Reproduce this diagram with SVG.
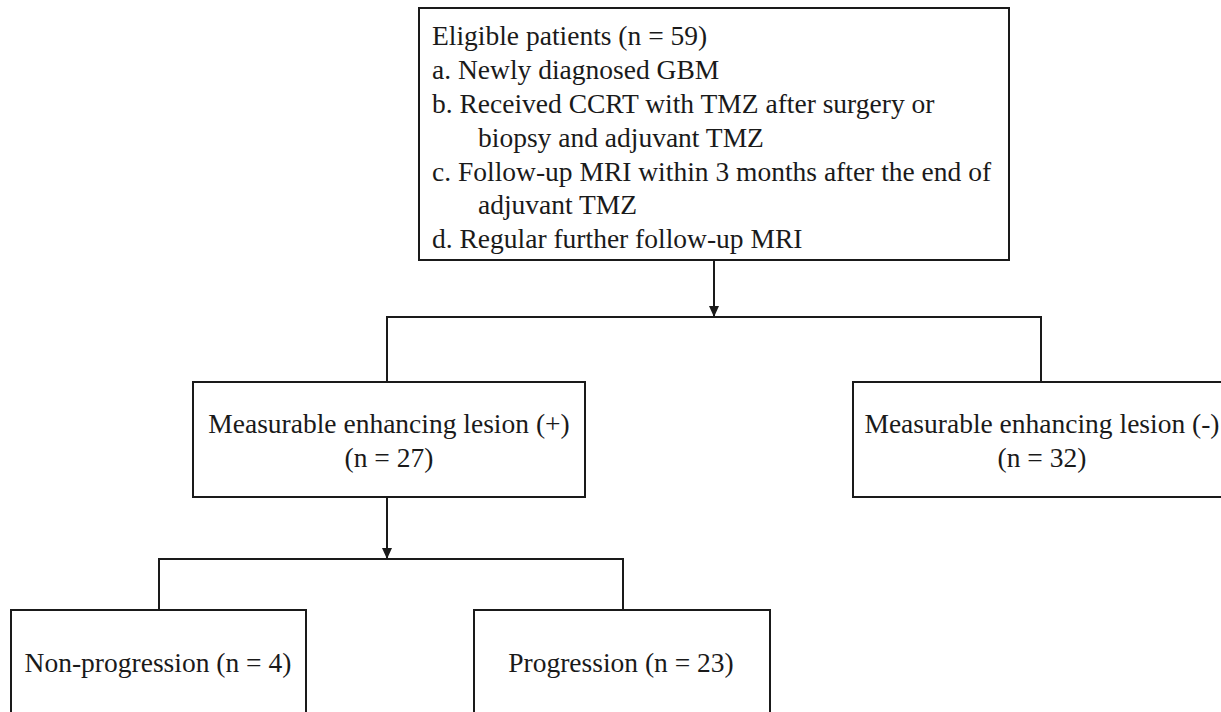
<svg xmlns="http://www.w3.org/2000/svg" width="1221" height="712" viewBox="0 0 1221 712">
<style>
.box{fill:#fff;stroke:#1a1a1a;stroke-width:2}
.ln{fill:none;stroke:#1a1a1a;stroke-width:2}
text{font-family:"Liberation Serif","Times New Roman",serif;font-size:27.5px;fill:#1a1a1a}
.c{text-anchor:middle}
</style>
<defs>
<marker id="arr" markerWidth="11" markerHeight="10" refX="11" refY="5" orient="auto" markerUnits="userSpaceOnUse" viewBox="0 0 11 10">
<path d="M0,0 L11,5 L0,10 Z" fill="#1a1a1a"/>
</marker>
</defs>
<g id="connectors">
<line class="ln" x1="714" y1="260" x2="714" y2="317" marker-end="url(#arr)"/>
<polyline class="ln" points="387,382 387,317 1041,317 1041,382"/>
<line class="ln" x1="387" y1="497" x2="387" y2="559" marker-end="url(#arr)"/>
<polyline class="ln" points="159,610 159,559 623,559 623,610"/>
</g>
<g id="eligible">
<rect class="box" x="419" y="8" width="590" height="252"/>
<text x="432" y="45">Eligible patients (n = 59)</text>
<text x="432" y="79">a. Newly diagnosed GBM</text>
<text x="432" y="113">b. Received CCRT with TMZ after surgery or</text>
<text x="478" y="147">biopsy and adjuvant TMZ</text>
<text x="432" y="181">c. Follow-up MRI within 3 months after the end of</text>
<text x="478" y="214">adjuvant TMZ</text>
<text x="432" y="248">d. Regular further follow-up MRI</text>
</g>
<g id="lesion-pos">
<rect class="box" x="193" y="382" width="392" height="115"/>
<text class="c" x="389" y="433">Measurable enhancing lesion (+)</text>
<text class="c" x="389" y="467">(n = 27)</text>
</g>
<g id="lesion-neg">
<rect class="box" x="853" y="382" width="380" height="115"/>
<text class="c" x="1042" y="433">Measurable enhancing lesion (-)</text>
<text class="c" x="1042" y="467">(n = 32)</text>
</g>
<g id="non-progression">
<rect class="box" x="11" y="610" width="295" height="120"/>
<text class="c" x="158" y="672">Non-progression (n = 4)</text>
</g>
<g id="progression">
<rect class="box" x="474" y="610" width="296" height="120"/>
<text class="c" x="621" y="672">Progression (n = 23)</text>
</g>
</svg>
